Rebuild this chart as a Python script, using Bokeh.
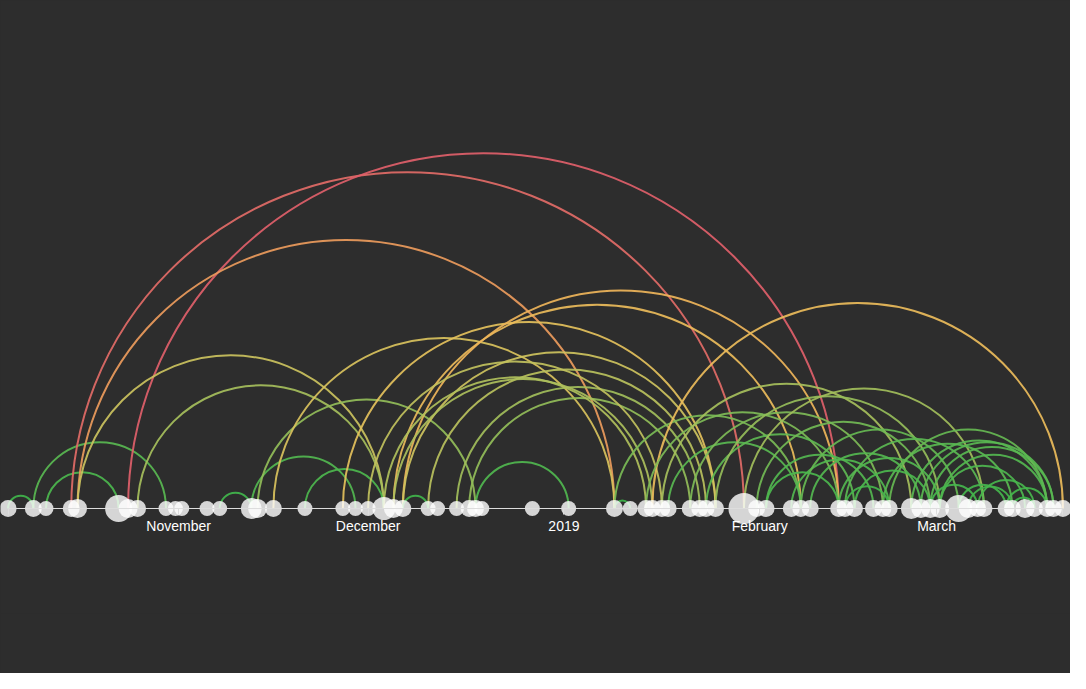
import numpy as np
import pandas as pd
from bokeh.plotting import figure
from bokeh.models import ColumnDataSource, LinearAxis, FixedTicker, Range1d
from bokeh.transform import linear_cmap
from bokeh.embed import file_html
from bokeh.resources import INLINE

# events on the timeline and how many items each one groups
node_dates = [
    "2018-10-05", "2018-10-09", "2018-10-11", "2018-10-15", "2018-10-16",
    "2018-10-22 12:00", "2018-10-24", "2018-10-25 12:00", "2018-10-30", "2018-10-31 12:00",
    "2018-11-01 12:00", "2018-11-05 12:00", "2018-11-07 12:00", "2018-11-12 12:00", "2018-11-13 12:00",
    "2018-11-16", "2018-11-21", "2018-11-27", "2018-11-29", "2018-12-01",
    "2018-12-03 12:00", "2018-12-05", "2018-12-06 12:00", "2018-12-10 12:00", "2018-12-12",
    "2018-12-15", "2018-12-17", "2018-12-18", "2018-12-19", "2018-12-27",
    "2019-01-01 18:00", "2019-01-09", "2019-01-11 12:00", "2019-01-14", "2019-01-15",
    "2019-01-16 12:00", "2019-01-17 12:00", "2019-01-21", "2019-01-22 12:00", "2019-01-23 12:00",
    "2019-01-25", "2019-01-29 12:00", "2019-01-31 12:00", "2019-02-02", "2019-02-06",
    "2019-02-07 12:00", "2019-02-09", "2019-02-13 12:00", "2019-02-14 12:00", "2019-02-16",
    "2019-02-19", "2019-02-20 12:00", "2019-02-21 12:00", "2019-02-25", "2019-02-26 12:00",
    "2019-02-28", "2019-03-01 12:00", "2019-03-04 12:00", "2019-03-06", "2019-03-07 12:00",
    "2019-03-08 12:00", "2019-03-12", "2019-03-13", "2019-03-15", "2019-03-16 12:00",
    "2019-03-18 12:00", "2019-03-19 12:00", "2019-03-21",
]
node_count = [
    2, 2, 1, 2, 3,
    7, 3, 2, 1, 1,
    1, 1, 1, 4, 3,
    2, 1, 1, 1, 1,
    5, 3, 2, 1, 1,
    1, 2, 2, 1, 1,
    1, 2, 1, 2, 2,
    2, 2, 2, 2, 2,
    2, 9, 2, 2, 2,
    2, 2, 2, 2, 2,
    2, 2, 2, 4, 3,
    3, 3, 7, 3, 2,
    2, 2, 2, 3, 2,
    2, 2, 2,
]

# links between events
link_source = [
    "2018-10-05", "2018-10-09", "2018-10-11", "2018-10-15", "2018-10-24",
    "2018-10-16", "2018-10-16", "2018-10-25 12:00", "2018-11-07 12:00", "2018-11-12 12:00",
    "2018-11-13 12:00", "2018-11-16", "2018-11-21", "2018-11-27", "2018-12-05",
    "2018-12-06 12:00", "2018-12-06 12:00", "2018-12-10 12:00", "2018-12-15", "2018-12-17",
    "2018-12-18", "2018-12-03 12:00", "2018-12-05", "2018-12-01", "2018-12-06 12:00",
    "2019-01-09",
    "2019-01-09", "2019-01-15", "2019-01-14", "2019-01-16 12:00", "2019-01-17 12:00",
    "2019-01-21", "2019-01-23 12:00", "2019-01-25", "2019-01-29 12:00", "2019-01-31 12:00",
    "2019-02-02", "2019-02-06", "2019-02-07 12:00", "2019-02-09", "2019-02-13 12:00",
    "2019-02-14 12:00", "2019-02-28", "2019-03-01 12:00", "2019-02-20 12:00", "2019-02-21 12:00",
    "2019-02-25", "2019-02-26 12:00", "2019-03-01 12:00", "2019-03-04 12:00", "2019-03-06",
    "2019-03-07 12:00", "2019-03-12", "2019-03-13", "2019-02-28", "2019-02-14 12:00",
    "2019-02-02", "2019-02-16",
]
link_target = [
    "2018-10-09", "2018-10-30", "2018-10-22 12:00", "2019-01-29 12:00", "2019-02-13 12:00",
    "2019-01-09", "2018-12-03 12:00", "2018-12-03 12:00", "2018-11-12 12:00", "2018-11-29",
    "2018-12-18", "2019-01-09", "2018-12-03 12:00", "2019-01-25", "2019-02-07 12:00",
    "2019-02-13 12:00", "2019-01-25", "2019-01-23 12:00", "2019-01-22 12:00", "2019-01-21",
    "2019-01-01 18:00", "2019-01-14", "2019-01-15", "2019-01-16 12:00", "2018-12-10 12:00",
    "2019-01-11 12:00",
    "2019-02-07 12:00", "2019-03-21", "2019-02-13 12:00", "2019-02-25", "2019-02-07 12:00",
    "2019-02-20 12:00", "2019-02-16", "2019-03-01 12:00", "2019-03-08 12:00", "2019-02-28",
    "2019-02-19", "2019-02-21 12:00", "2019-03-04 12:00", "2019-02-26 12:00", "2019-03-01 12:00",
    "2019-03-08 12:00", "2019-03-19 12:00", "2019-03-18 12:00", "2019-03-13", "2019-03-18 12:00",
    "2019-03-18 12:00", "2019-03-19 12:00", "2019-03-15", "2019-03-12", "2019-03-13",
    "2019-03-16 12:00", "2019-03-18 12:00", "2019-03-16 12:00", "2019-03-07 12:00", "2019-02-21 12:00",
    "2019-02-13 12:00", "2019-02-28",
]

tick_dates = ["2018-11-01", "2018-12-01", "2019-01-01", "2019-02-01", "2019-03-01"]
tick_labels = ["November", "December", "2019", "February", "March"]

BG = "#2d2d2d"
origin = pd.Timestamp("2018-10-01")


def to_days(dates):
    d = pd.to_datetime(pd.Series(dates), format="mixed")
    return ((d - origin) / pd.Timedelta(days=1)).to_numpy(dtype=float)


nx = to_days(node_dates)
lo, hi = float(nx.min()), float(nx.max())

nodes = ColumnDataSource(dict(
    x=nx,
    y=np.zeros(len(nx)),
    size=2 * (6.5 + np.array(node_count)),
))

s = to_days(link_source)
t = to_days(link_target)
span = np.abs(t - s)
links = ColumnDataSource(dict(x=(s + t) / 2, r=span / 2, span=span))

# green -> yellow -> orange -> red, by length of the link
stops = [0.0, 0.2, 0.35, 0.45, 0.55, 0.62, 0.76, 1.0]
stop_colors = ["#3bb54a", "#5cb852", "#a8bf5c", "#d2c35e", "#e9c05c", "#f0b45a", "#ec9a5c", "#e0606a"]
rgb = np.array([[int(c[i:i + 2], 16) for i in (1, 3, 5)] for c in stop_colors])
grid = np.linspace(0, 1, 128)
palette = ["#%02x%02x%02x" % tuple(int(round(np.interp(g, stops, rgb[:, k]))) for k in range(3)) for g in grid]

p = figure(
    width=1070, height=673,
    x_range=Range1d(lo - 1.2, hi + 1.2), y_range=Range1d(-105, 508),
    x_axis_type=None, y_axis_type=None,
    toolbar_location=None, output_backend="svg",
    background_fill_color=BG, border_fill_color=BG, outline_line_color=None,
    min_border_left=0, min_border_right=0, min_border_top=0, min_border_bottom=60,
    styles={"background-color": BG},
)

p.arc(x="x", y=0, radius="r", start_angle=0, end_angle=np.pi, source=links,
      line_color=linear_cmap("span", palette, 0, span.max()), line_width=2, line_alpha=0.92)

p.scatter(x="x", y="y", size="size", source=nodes,
          fill_color="white", fill_alpha=0.8, line_color=None)

ticks = [lo] + list(to_days(tick_dates)) + [hi]
overrides = {lo: "", hi: ""}
for d, lab in zip(to_days(tick_dates), tick_labels):
    overrides[float(d)] = lab

xaxis = LinearAxis(
    ticker=FixedTicker(ticks=ticks), bounds=(lo, hi), fixed_location=0,
    axis_line_color="#dddddd", axis_line_width=1,
    major_tick_line_color="#dddddd", major_tick_out=6, major_tick_in=0,
    minor_tick_line_color=None,
    major_label_text_color="white", major_label_text_font="Liberation Sans",
    major_label_text_font_size="14px", major_label_standoff=3,
)
xaxis.major_label_overrides = overrides
p.add_layout(xaxis, "below")

open("out.html", "w").write(file_html(p, INLINE))
